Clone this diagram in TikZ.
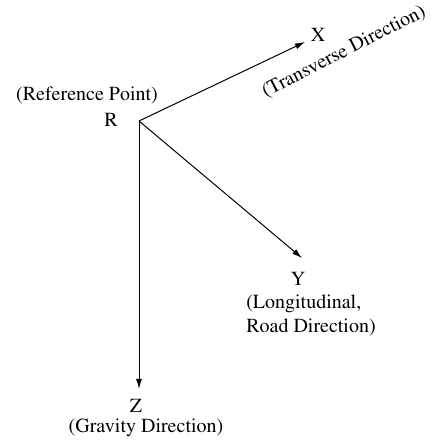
\documentclass[tikz,border=0pt]{standalone}
\usepackage[T1]{fontenc}
\renewcommand{\rmdefault}{ptm}
\usetikzlibrary{arrows.meta, positioning}

\begin{document}
\begin{tikzpicture}[x=0.5pt, y=0.5pt, font=\fontsize{10}{12}\selectfont,
    axis/.style={-{Latex[length=5pt, width=3pt]}, line width=0.5pt}]
    \useasboundingbox (0,0) rectangle (433,444);

    % Reference point
    \coordinate (R) at (139,323);
    \node (rlabel) at (111,324) {R};
    \node (rname) at (87,348) {(Reference Point)};

    % X axis
    \coordinate (xend) at (305,402);
    \draw[axis] (R) -- (xend);
    \node (xlabel) at (318,409) {X};
    \node[rotate=27] (xname) at (344,392) {(Transverse Direction)};

    % Y axis
    \coordinate (yend) at (302,186);
    \draw[axis] (R) -- (yend);
    \node (ylabel) at (298,165) {Y};
    \node[align=left] (yname) at (311,128) {(Longitudinal,\\Road Direction)};

    % Z axis
    \coordinate (zend) at (139,55);
    \draw[axis] (R) -- (zend);
    \node (zlabel) at (136,38) {Z};
    \node (zname) at (146,16) {(Gravity Direction)};
\end{tikzpicture}
\end{document}
